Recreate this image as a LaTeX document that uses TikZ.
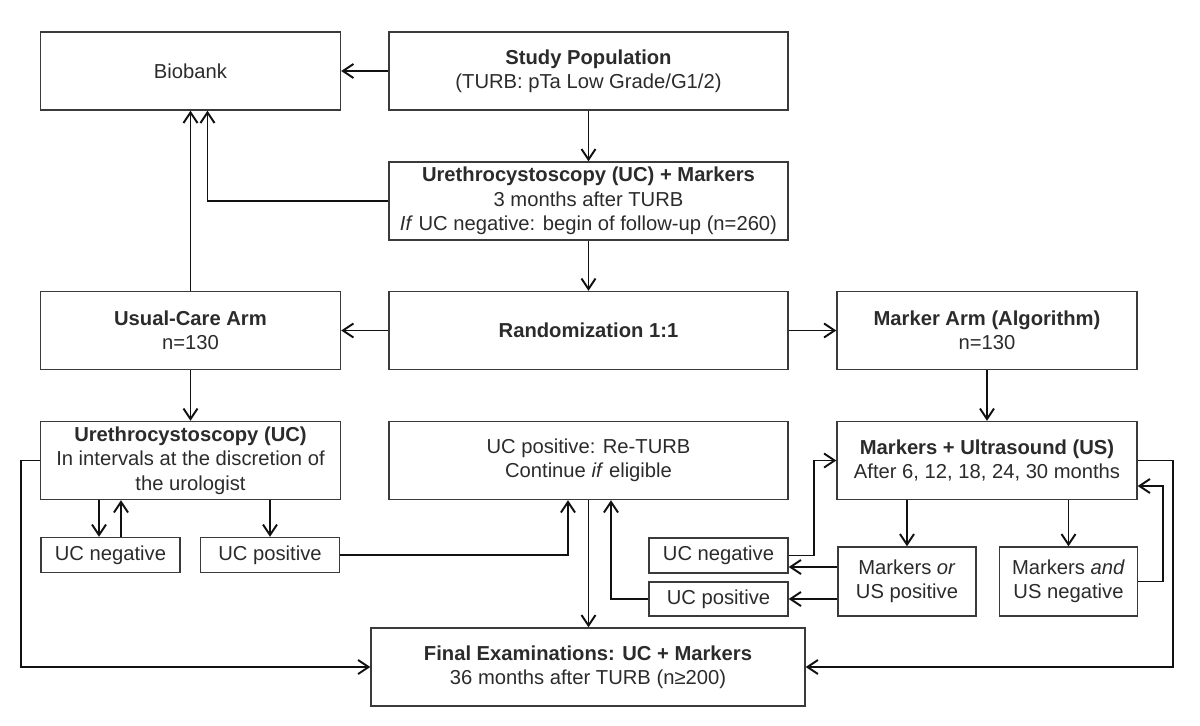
\documentclass[tikz,border=0pt]{standalone}
\usepackage{fontspec}
\setmainfont{Liberation Sans}
\usepackage{xcolor}
\usetikzlibrary{positioning, arrows.meta}
\definecolor{BoxLine}{HTML}{3A3A3A}
\definecolor{InkGray}{HTML}{2B2B2B}
\definecolor{FlowLine}{HTML}{111111}

\tikzset{
  box/.style={draw=BoxLine, line width=0.8pt, text=InkGray, align=center, inner sep=2pt,
    font=\fontsize{11.5}{13.9}\selectfont},
  widebox/.style={box, minimum width=7.98cm, minimum height=1.56cm},
  sidebox/.style={box, minimum width=6cm, minimum height=1.56cm},
  smallbox/.style={box, minimum width=2.78cm, minimum height=0.7cm},
  midbox/.style={box, minimum width=2.76cm, minimum height=1.38cm},
  flow/.style={draw=FlowLine, line width=1.1pt, -{Straight Barb[length=6pt,width=8pt]}},
}

\begin{document}
\begin{tikzpicture}[x=0.02cm, y=-0.02cm]
  \useasboundingbox (0,0) rectangle (1200,725);
  % Top part
  \node[sidebox] (bio) at (190.5,71) {Biobank};
  \node[widebox] (study) at (588.5,71) {\textbf{Study Population}\\(TURB: pTa Low Grade/G1/2)};
  \node[widebox] (ucm) at (588.5,201) {\textbf{Urethrocystoscopy (UC) + Markers}\\3 months after TURB\\\textit{If} UC negative: begin of follow-up (n=260)};
  % Arms
  \node[widebox] (rand) at (588.5,330.5) {\textbf{Randomization 1:1}};
  \node[sidebox] (usual) at (190.5,330.5) {\textbf{Usual-Care Arm}\\n=130};
  \node[sidebox] (marm) at (987,330.5) {\textbf{Marker Arm (Algorithm)}\\n=130};
  % Follow-up
  \node[sidebox] (ucl) at (190.5,460.5) {\textbf{Urethrocystoscopy (UC)}\\In intervals at the discretion of\\the urologist};
  \node[widebox] (retu) at (588.5,460.5) {UC positive: Re-TURB\\Continue \textit{if} eligible};
  \node[sidebox] (mus) at (987,460.5) {\textbf{Markers + Ultrasound (US)}\\After 6, 12, 18, 24, 30 months};
  \node[smallbox] (negl) at (110.5,555) {UC negative};
  \node[smallbox] (posl) at (270,555) {UC positive};
  \node[smallbox] (negr) at (718.5,555.5) {UC negative};
  \node[smallbox, minimum height=0.68cm] (posr) at (718.5,599) {UC positive};
  \node[midbox] (mor) at (907,581.5) {Markers \textit{or}\\US positive};
  \node[midbox] (mand) at (1068.5,581.5) {Markers \textit{and}\\US negative};
  \node[box, minimum width=8.68cm, minimum height=1.56cm] (final) at (588,667) {\textbf{Final Examinations: UC + Markers}\\36 months after TURB (n≥200)};

  % Connectors
  \draw[flow] (study.west) -- (bio.east);
  \draw[flow] (study) -- (ucm);
  \draw[flow] (ucm.west) -| ([xshift=0.34cm]bio.south);
  \draw[flow] (usual) -- (bio);
  \draw[flow] (ucm) -- (rand);
  \draw[flow] (rand) -- (usual);
  \draw[flow] (rand) -- (marm);
  \draw[flow] (usual) -- (ucl);
  \draw[flow] (marm) -- (mus);
  \draw[flow] ([xshift=-0.23cm]ucl.south -| negl) -- ([xshift=-0.23cm]negl.north);
  \draw[flow] ([xshift=0.21cm]negl.north) -- ([xshift=0.21cm]ucl.south -| negl);
  \draw[flow] (ucl.south -| posl) -- (posl.north);
  \draw[flow] (posl.east) -| ([xshift=-0.41cm]retu.south);
  \draw[flow] (retu.south) -- (retu.south |- final.north);
  \draw[flow] (posr.west) -| ([xshift=0.45cm]retu.south);
  \draw[flow] (negr.east) -- ++(25,0) |- (mus.west);
  \draw[flow] ([yshift=0.29cm]mor.west) -- ([yshift=0.29cm]mor.west -| negr.east);
  \draw[flow] (mor.west |- posr) -- (posr.east);
  \draw[flow] (mus.south -| mor) -- (mor.north);
  \draw[flow] (mus.south -| mand) -- (mand.north);
  \draw[flow] (mand.east) -- ++(25,0) |- ([yshift=-0.51cm]mus.east);
  \draw[flow] (mus.east) -- ++(35,0) |- (final.east);
  \draw[flow] (ucl.west) -- ++(-19,0) |- (final.west);
\end{tikzpicture}
\end{document}
